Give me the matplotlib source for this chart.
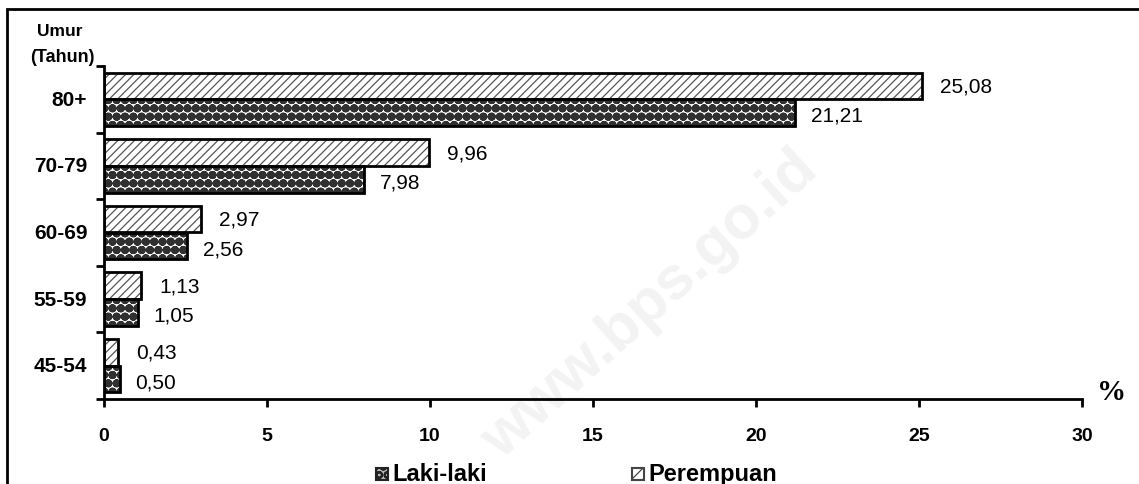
import matplotlib
matplotlib.use("Agg")
import matplotlib.pyplot as plt
import numpy as np
from matplotlib.patches import Rectangle

plt.rcParams['font.family'] = ['Liberation Sans', 'DejaVu Sans']

categories = ["45-54", "55-59", "60-69", "70-79", "80+"]
laki = [0.50, 1.05, 2.56, 7.98, 21.21]
perempuan = [0.43, 1.13, 2.97, 9.96, 25.08]
xticks = [0, 5, 10, 15, 20, 25, 30]

W, H = 1139, 485
fig = plt.figure(figsize=(W/100, H/100), dpi=100)
ax = fig.add_axes([104/W, 1-400/H, (1082-104)/W, (400-67)/H])
ax.set_facecolor('none')

y = np.arange(len(categories))
h = 0.40

plt.rcParams['hatch.linewidth'] = 1.7
ax.barh(y - h/2, laki, height=h, color='white', edgecolor='#303030', hatch='OOoo', linewidth=0)
plt.rcParams['hatch.linewidth'] = 0.9
ax.barh(y + h/2, perempuan, height=h, color='white', edgecolor='#555555', hatch='////', linewidth=0)
ax.barh(y - h/2, laki, height=h, fill=False, edgecolor='black', linewidth=2)
ax.barh(y + h/2, perempuan, height=h, fill=False, edgecolor='black', linewidth=2)

def fmt(v):
    return f"{v:.2f}".replace('.', ',')

for yi, v in zip(y, laki):
    ax.annotate(fmt(v), (v, yi - h/2), xytext=(11, -2), textcoords='offset points',
                va='center', ha='left', fontsize=15)
for yi, v in zip(y, perempuan):
    ax.annotate(fmt(v), (v, yi + h/2), xytext=(13, 0), textcoords='offset points',
                va='center', ha='left', fontsize=15)

ax.set_xlim(0, 30)
ax.set_ylim(-0.5, 4.5)
ax.set_xticks(xticks)
ax.set_xticklabels([str(t) for t in xticks], fontweight='bold', fontsize=14)
ax.set_yticks(np.arange(-0.5, 5, 1.0))
ax.set_yticklabels([])
for yi, c in zip(y, categories):
    ax.annotate(c, (0, yi), xytext=(-12, 0), textcoords='offset points',
                ha='right', va='center', fontweight='bold', fontsize=15)
ax.tick_params(axis='y', length=6, width=2, direction='out')
ax.tick_params(axis='x', length=6, width=2, direction='out', pad=14)
for s in ['top', 'right']:
    ax.spines[s].set_visible(False)
for s in ['left', 'bottom']:
    ax.spines[s].set_linewidth(2)

fig.text(60/W, 1-31/H, "Umur", ha='center', va='center', fontweight='bold', fontsize=12.5)
fig.text(62/W, 1-57/H, "(Tahun)", ha='center', va='center', fontweight='bold', fontsize=13)
fig.text(1112/W, 1-400/H, "%", ha='center', va='baseline', fontweight='bold', fontsize=21,
         family=['Liberation Serif', 'DejaVu Serif'])

# watermark
fig.text(650/W, 1-305/H, "www.bps.go.id", ha='center', va='center', rotation=42,
         fontsize=44, fontweight='bold', color='#f3f3f3', zorder=-5)

# legend (drawn manually in figure pixels)
plt.rcParams['hatch.linewidth'] = 1.5
fig.patches.append(Rectangle((376/W, 1-481/H), 12/W, 12/H, transform=fig.transFigure,
                             facecolor='#bbbbbb', edgecolor='#222222', hatch='OO', linewidth=1.5))
plt.rcParams['hatch.linewidth'] = 0.9
fig.patches.append(Rectangle((632/W, 1-481/H), 12/W, 12/H, transform=fig.transFigure,
                             facecolor='white', edgecolor='#444444', hatch='///', linewidth=1.5))
fig.text(392/W, 1-475/H, "Laki-laki", ha='left', va='center', fontweight='bold', fontsize=17)
fig.text(648/W, 1-475/H, "Perempuan", ha='left', va='center', fontweight='bold', fontsize=17)

fig.patches.append(Rectangle((7/W, -0.01), 1.0, 1-10/H + 0.01, transform=fig.transFigure,
                             fill=False, edgecolor='black', linewidth=2))

fig.savefig("out.png", dpi=100)
